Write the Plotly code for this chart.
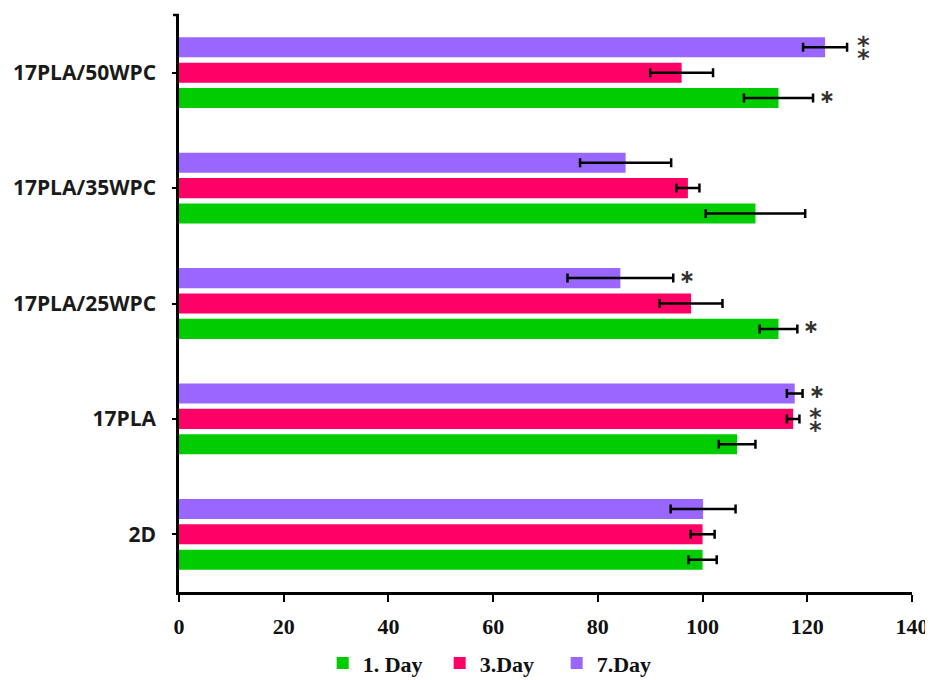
import plotly.graph_objects as go

categories = ["2D", "17PLA", "17PLA/25WPC", "17PLA/35WPC", "17PLA/50WPC"]
series_names = ["1. Day", "3.Day", "7.Day"]

day1 = [100.0, 106.6, 114.5, 110.1, 114.5]
err1 = [2.7, 3.5, 3.6, 9.5, 6.6]
day3 = [100.0, 117.3, 97.8, 97.2, 96.0]
err3 = [2.3, 1.2, 6.0, 2.2, 6.0]
day7 = [100.1, 117.6, 84.3, 85.3, 123.4]
err7 = [6.2, 1.5, 10.1, 8.7, 4.2]

sig1 = ["", "", "*", "", "*"]
sig3 = ["", "**", "", "", ""]
sig7 = ["", "*", "*", "", "**"]

colors = ["#00CC00", "#FF0066", "#9966FF"]

values = [day1, day3, day7]
errors = [err1, err3, err7]
sigs = [sig1, sig3, sig7]

fig = go.Figure()
for name, vals, errs, col in zip(series_names, values, errors, colors):
    fig.add_trace(go.Bar(
        y=categories, x=vals, name=name, orientation="h",
        marker=dict(color=col, line=dict(width=0)),
        error_x=dict(type="data", array=errs, visible=True,
                     color="black", thickness=2.5, width=4.5),
    ))

annotations = []
offsets = [-1, 0, 1]
for si, (vals, errs, sg) in enumerate(zip(values, errors, sigs)):
    for ci, cat in enumerate(categories):
        s = sg[ci]
        if not s:
            continue
        single = s == "*"
        annotations.append(dict(
            x=vals[ci] + errs[ci], y=cat, xref="x", yref="y",
            text="\u2217" if single else "\u2051",
            showarrow=False, xanchor="center", yanchor="middle",
            xshift=14 if single else 17,
            yshift=offsets[si] * 25.3 + (2.5 if single else -2.5),
            borderpad=0,
            font=dict(family="DejaVu Sans", size=19 if single else 30,
                      color="#333333", weight="bold"),
        ))

# page body has an 8px margin: figure is sized so the plot lands where the reference's does
fig.update_layout(
    width=925, height=672,
    margin=dict(l=171, r=21, t=7, b=88),
    paper_bgcolor="white", plot_bgcolor="white",
    barmode="group", bargap=0.34, bargroupgap=0.21,
    showlegend=True,
    legend=dict(orientation="h", x=0.196, xref="paper", xanchor="left",
                y=0.025, yref="container", yanchor="middle",
                traceorder="normal",
                font=dict(family="Liberation Serif", size=22, color="#111111",
                          weight="bold"),
                entrywidth=72, itemwidth=30),
    annotations=annotations,
    shapes=[dict(type="line", xref="paper", yref="paper", xsizemode="pixel",
                 xanchor=0, x0=-6, x1=0, y0=1, y1=1,
                 line=dict(color="black", width=2.5))],
)

fig.update_xaxes(
    range=[0, 140], tickvals=[0, 20, 40, 60, 80, 100, 120, 140],
    showgrid=False, zeroline=False, showline=True, linecolor="black",
    linewidth=2.5, ticks="outside", ticklen=7, tickwidth=2, tickcolor="black",
    tickfont=dict(family="Liberation Serif", size=22, color="#111111",
                  weight="bold"),
    ticklabelstandoff=6, automargin=False,
)
fig.update_yaxes(
    categoryorder="array", categoryarray=categories,
    showgrid=False, zeroline=False, showline=True, linecolor="black",
    linewidth=2.5, ticks="outside", ticklen=4, tickwidth=2, tickcolor="black",
    tickfont=dict(family="Open Sans", size=21, color="#1a1a1a", weight="bold"),
    ticklabelstandoff=12, automargin=False,
)

fig.write_html("out.html")
